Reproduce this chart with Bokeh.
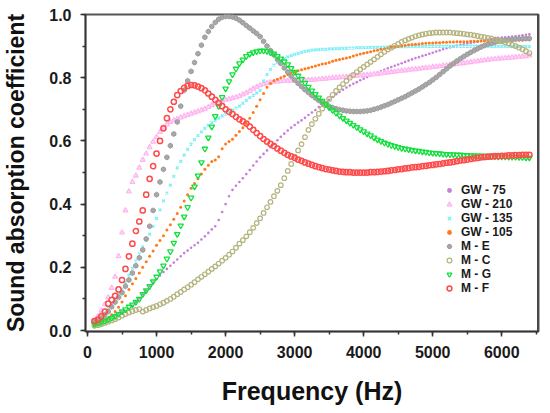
from bokeh.plotting import figure
from bokeh.embed import file_html
from bokeh.resources import INLINE
from bokeh.models import Range1d, SingleIntervalTicker, PrintfTickFormatter, Legend, LegendItem, Span

freq = [100, 150, 200, 250, 300, 350, 400, 450, 500, 550,
        600, 650, 700, 750, 800, 850, 900, 950, 1000, 1050,
        1100, 1150, 1200, 1250, 1300, 1350, 1400, 1450, 1500, 1550,
        1600, 1650, 1700, 1750, 1800, 1850, 1900, 1950, 2000, 2050,
        2100, 2150, 2200, 2250, 2300, 2350, 2400, 2450, 2500, 2550,
        2600, 2650, 2700, 2750, 2800, 2850, 2900, 2950, 3000, 3050,
        3100, 3150, 3200, 3250, 3300, 3350, 3400, 3450, 3500, 3550,
        3600, 3650, 3700, 3750, 3800, 3850, 3900, 3950, 4000, 4050,
        4100, 4150, 4200, 4250, 4300, 4350, 4400, 4450, 4500, 4550,
        4600, 4650, 4700, 4750, 4800, 4850, 4900, 4950, 5000, 5050,
        5100, 5150, 5200, 5250, 5300, 5350, 5400, 5450, 5500, 5550,
        5600, 5650, 5700, 5750, 5800, 5850, 5900, 5950, 6000, 6050,
        6100, 6150, 6200, 6250, 6300, 6350, 6400]

gw75 = [.02, .025, .03, .035, .04, .045, .05, .054, .058, .062,
        .066, .078, .09, .102, .115, .127, .14, .152, .163, .174,
        .185, .195, .205, .215, .225, .235, .245, .253, .262, .27,
        .278, .288, .298, .309, .32, .33, .35, .375, .40, .425,
        .445, .458, .47, .482, .495, .508, .522, .535, .548, .559,
        .57, .58, .59, .602, .613, .623, .633, .642, .65, .658,
        .665, .673, .682, .69, .698, .707, .715, .722, .73, .739,
        .748, .755, .762, .769, .775, .781, .786, .792, .797, .802,
        .807, .812, .816, .821, .825, .83, .834, .838, .842, .846,
        .85, .854, .858, .862, .865, .869, .872, .876, .879, .883,
        .886, .89, .893, .896, .899, .902, .904, .906, .908, .91,
        .912, .914, .916, .918, .92, .922, .924, .926, .927, .928,
        .929, .93, .931, .933, .934, .936, .937]

gw210 = [.03, .045, .063, .083, .105, .135, .17, .235, .31, .38,
         .44, .47, .49, .515, .54, .56, .58, .597, .612, .628,
         .642, .652, .66, .665, .67, .674, .678, .682, .686, .69,
         .693, .697, .701, .707, .713, .719, .724, .727, .73, .732,
         .735, .738, .742, .747, .752, .758, .765, .771, .776, .78,
         .783, .785, .787, .788, .789, .79, .79, .79, .791, .791,
         .792, .792, .793, .793, .794, .795, .796, .797, .798, .799,
         .80, .801, .802, .803, .804, .805, .806, .807, .808, .809,
         .81, .811, .812, .813, .815, .816, .818, .819, .821, .822,
         .823, .825, .826, .827, .828, .83, .831, .832, .834, .835,
         .836, .838, .839, .841, .842, .843, .845, .846, .848, .849,
         .851, .852, .854, .855, .857, .858, .859, .86, .861, .862,
         .863, .864, .865, .866, .867, .868, .87]

gw135 = [.02, .03, .04, .055, .07, .085, .10, .115, .13, .152,
         .175, .197, .22, .242, .265, .285, .305, .33, .355, .382,
         .41, .435, .46, .488, .515, .535, .555, .573, .59, .604,
         .617, .629, .64, .649, .658, .665, .672, .679, .685, .692,
         .698, .704, .71, .719, .728, .737, .745, .752, .76, .79,
         .81, .826, .84, .848, .855, .861, .866, .87, .874, .877,
         .88, .883, .885, .887, .888, .889, .89, .89, .891, .891,
         .892, .892, .893, .893, .894, .894, .895, .895, .895, .895,
         .896, .896, .896, .896, .897, .897, .897, .897, .898, .898,
         .898, .898, .899, .899, .899, .899, .899, .9, .9, .9,
         .9, .9, .9, .9, .9, .9, .9, .9, .9, .9,
         .9, .9, .9, .899, .899, .899, .899, .899, .899, .899,
         .899, .898, .898, .898, .898, .898, .898]

gw105 = [.015, .02, .025, .032, .04, .05, .06, .074, .09, .11,
         .13, .148, .165, .182, .20, .218, .235, .252, .27, .285,
         .30, .318, .335, .352, .37, .39, .41, .43, .45, .465,
         .48, .495, .51, .523, .535, .54, .55, .575, .59, .598,
         .605, .618, .63, .642, .655, .672, .69, .71, .73, .75,
         .77, .782, .79, .795, .80, .805, .81, .814, .818, .822,
         .825, .828, .831, .834, .837, .84, .843, .845, .848, .852,
         .855, .858, .86, .862, .865, .869, .872, .875, .877, .88,
         .882, .885, .887, .89, .892, .894, .896, .898, .899, .90,
         .902, .904, .905, .906, .907, .908, .909, .91, .91, .911,
         .911, .912, .912, .913, .913, .914, .914, .914, .914, .915,
         .915, .915, .916, .916, .916, .917, .917, .917, .918, .918,
         .918, .918, .919, .919, .919, .92, .92]

m_e = [.026, .032, .04, .05, .06, .075, .09, .105, .12, .14,
       .16, .182, .205, .23, .255, .29, .33, .38, .43, .47,
       .51, .548, .585, .622, .66, .71, .76, .79, .82, .848,
       .876, .903, .928, .946, .962, .975, .985, .991, .994, .994,
       .992, .988, .982, .974, .965, .957, .948, .94, .93, .915,
       .90, .886, .872, .858, .845, .831, .818, .805, .793, .782,
       .772, .762, .753, .744, .736, .728, .72, .714, .709, .705,
       .702, .699, .697, .695, .694, .693, .693, .693, .694, .695,
       .697, .70, .703, .707, .711, .715, .72, .725, .73, .735,
       .74, .746, .752, .758, .764, .771, .778, .785, .793, .801,
       .81, .819, .828, .837, .845, .853, .86, .867, .874, .88,
       .886, .892, .897, .902, .906, .909, .912, .915, .917, .919,
       .92, .921, .922, .923, .923, .924, .924]

m_c = [.015, .017, .02, .024, .028, .032, .036, .041, .047, .052,
       .057, .061, .065, .068, .06, .065, .07, .074, .078, .083,
       .088, .094, .10, .107, .115, .122, .13, .137, .145, .153,
       .162, .17, .178, .186, .195, .203, .212, .221, .23, .24,
       .25, .262, .275, .286, .298, .311, .325, .34, .355, .372,
       .39, .407, .425, .442, .46, .482, .505, .527, .55, .57,
       .59, .612, .635, .653, .67, .686, .702, .718, .733, .746,
       .758, .769, .78, .79, .80, .809, .818, .826, .834, .842,
       .85, .858, .866, .874, .882, .889, .895, .901, .907, .913,
       .918, .923, .927, .931, .934, .937, .939, .941, .942, .943,
       .943, .943, .943, .943, .942, .941, .94, .939, .937, .936,
       .934, .932, .93, .928, .926, .924, .921, .918, .915, .912,
       .908, .904, .90, .895, .89, .884, .878]

m_g = [.02, .023, .026, .03, .035, .04, .045, .052, .06, .067,
       .075, .082, .09, .10, .115, .127, .14, .155, .17, .187,
       .205, .227, .25, .277, .305, .332, .36, .39, .42, .455,
       .49, .532, .575, .61, .645, .678, .71, .738, .765, .788,
       .81, .828, .845, .857, .868, .875, .88, .883, .885, .885,
       .884, .88, .876, .868, .86, .851, .842, .83, .818, .806,
       .795, .783, .771, .759, .748, .737, .726, .716, .706, .697,
       .688, .68, .672, .664, .657, .65, .643, .636, .63, .623,
       .617, .61, .604, .599, .594, .59, .586, .583, .58, .577,
       .575, .573, .571, .569, .568, .566, .565, .563, .562, .561,
       .56, .559, .558, .557, .557, .556, .556, .555, .555, .554,
       .554, .553, .553, .552, .552, .551, .551, .55, .55, .55,
       .549, .549, .549, .548, .548, .547, .547]

m_f = [.03, .035, .045, .06, .085, .097, .11, .13, .16, .195,
       .235, .275, .315, .345, .38, .43, .48, .52, .56, .60,
       .64, .672, .70, .724, .745, .758, .768, .774, .777, .776,
       .772, .767, .76, .75, .74, .73, .72, .71, .70, .692,
       .685, .676, .668, .662, .655, .645, .635, .625, .615, .606,
       .598, .591, .584, .576, .569, .562, .556, .551, .546, .541,
       .537, .532, .528, .524, .52, .517, .514, .511, .509, .507,
       .505, .503, .502, .501, .501, .50, .50, .50, .50, .50,
       .501, .501, .502, .503, .504, .505, .507, .508, .51, .511,
       .513, .514, .516, .517, .518, .52, .521, .523, .524, .526,
       .527, .529, .531, .532, .534, .536, .538, .539, .541, .543,
       .545, .546, .548, .549, .55, .551, .552, .552, .553, .553,
       .554, .554, .555, .555, .556, .556, .556]

labels = ["GW - 75", "GW - 210", "GW - 135", "GW - 105", "M - E", "M - C", "M - G", "M - F"]
series = [gw75, gw210, gw135, gw105, m_e, m_c, m_g, m_f]
for s in series:
    assert len(s) == len(freq), len(s)

X_START, X_END = -29, 6532

p = figure(width=544, height=411, output_backend="svg", toolbar_location=None,
           x_range=Range1d(X_START, X_END), y_range=Range1d(-0.003, 1.0),
           min_border_left=78, min_border_top=14, min_border_right=6, min_border_bottom=80)
p.background_fill_color = "white"
p.border_fill_color = "white"
p.grid.visible = False
p.outline_line_color = "#555555"
p.outline_line_width = 2

FONT = "Liberation Sans"
for ax in (p.xaxis[0], p.yaxis[0]):
    ax.axis_line_color = "#333333"
    ax.axis_line_width = 1.5
    ax.major_tick_line_color = "#333333"
    ax.major_tick_line_width = 1.5
    ax.minor_tick_line_color = "#333333"
    ax.minor_tick_line_width = 1.5
    ax.major_tick_in = 0
    ax.major_tick_out = 5
    ax.minor_tick_in = 0
    ax.minor_tick_out = 3
    ax.major_label_text_font = FONT
    ax.major_label_text_font_style = "bold"
    ax.major_label_text_font_size = "16px"
    ax.major_label_text_color = "#1a1a1a"
    ax.axis_label_text_font = FONT
    ax.axis_label_text_font_style = "bold"
    ax.axis_label_text_color = "#111111"

p.xaxis.ticker = SingleIntervalTicker(interval=1000, num_minor_ticks=2)
p.yaxis.ticker = SingleIntervalTicker(interval=0.2, num_minor_ticks=2)
p.yaxis.formatter = PrintfTickFormatter(format="%.1f")
p.xaxis.axis_label = "Frequency (Hz)"
p.yaxis.axis_label = "Sound absorption coefficient"
p.xaxis.axis_label_text_font_size = "25px"
p.yaxis.axis_label_text_font_size = "23px"
p.xaxis.major_label_standoff = 9
p.yaxis.major_label_standoff = 9
p.xaxis.axis_label_standoff = 16
p.yaxis.axis_label_standoff = 17

r1 = p.scatter(freq, gw75, marker="circle", size=2.6, line_color=None, fill_color="#C77DDB")
r2 = p.scatter(freq, gw210, marker="triangle", size=5, line_color="#FFB3F0", fill_color="#FFD9F8", line_width=1.1)
r3 = p.scatter(freq, gw135, marker="x", size=4, line_color="#7FEFF5", line_width=1.3)
r4 = p.scatter(freq, gw105, marker="circle", size=3, line_color=None, fill_color="#FF7A1A")
r5 = p.scatter(freq, m_e, marker="hex", size=5, line_color="#9C9C9C", fill_color="#A8A8A8", angle=0.52)
r6 = p.scatter(freq, m_c, marker="circle", size=4.6, line_color="#B5B37E", fill_color=None, line_width=1.2)
r7 = p.scatter(freq, m_g, marker="inverted_triangle", size=5.5, line_color="#12E03C", fill_color=None, line_width=1.3)
r8 = p.scatter(freq, m_f, marker="circle", size=5.2, line_color="#FF4A4A", fill_color=None, line_width=1.5)

p.add_layout(Span(location=X_END, dimension="height", line_color="#444444", line_width=3))

renderers = [r1, r2, r3, r4, r5, r6, r7, r8]
legend = Legend(items=[LegendItem(label=l, renderers=[r]) for l, r in zip(labels, renderers)],
                location=(358, 36), orientation="vertical",
                glyph_width=12, glyph_height=12, label_height=12, label_standoff=6,
                spacing=0, padding=0, margin=0,
                label_text_font=FONT, label_text_font_style="bold",
                label_text_font_size="12px", label_text_color="#1a1a1a",
                border_line_color=None, background_fill_alpha=0)
p.add_layout(legend)

open("out.html", "w").write(file_html(p, INLINE))
